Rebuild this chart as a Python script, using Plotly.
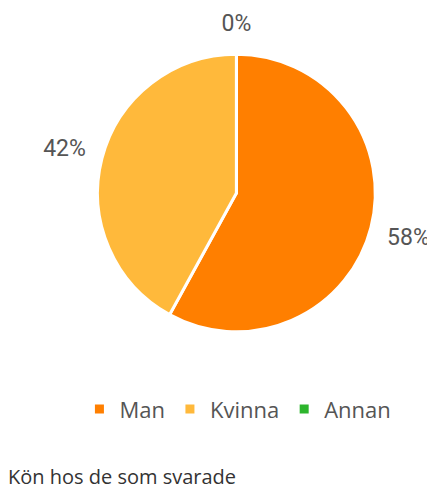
import plotly.graph_objects as go

labels = ["Man", "Kvinna", "Annan"]
values = [58, 42, 0]
colors = ["#FF7F00", "#FFB93B", "#2DB52D"]
text_labels = ["58%", "42%", "0%"]

PCT_FONT = dict(family="Roboto", size=23, color="#555555")

# main pie (slices)
pie = go.Pie(
    labels=labels,
    values=values,
    textinfo="none",
    sort=False,
    direction="clockwise",
    rotation=0,
    marker=dict(colors=colors, line=dict(color="white", width=3)),
    domain=dict(x=[0.2108, 0.8642], y=[0.3268, 0.9056]),
    showlegend=True,
    hoverinfo="label+percent",
)

# transparent ring carrying the outside labels of the two visible slices
side_ring = go.Pie(
    labels=labels,
    values=values,
    text=[t if v > 0 else "" for t, v in zip(text_labels, values)],
    textinfo="text",
    textposition="outside",
    sort=False,
    direction="clockwise",
    rotation=2.4,
    marker=dict(colors=["rgba(0,0,0,0)"] * 3, line=dict(width=0)),
    outsidetextfont=PCT_FONT,
    domain=dict(x=[0.1839, 0.8911], y=[0.3029, 0.9295]),
    showlegend=False,
    hoverinfo="skip",
)

# transparent ring whose centred top title carries the label of the zero slice
zero_label = [t for t, v in zip(text_labels, values) if v == 0][0]
top_ring = go.Pie(
    labels=labels,
    values=values,
    textinfo="none",
    sort=False,
    direction="clockwise",
    marker=dict(colors=["rgba(0,0,0,0)"] * 3, line=dict(width=0)),
    title=dict(text=zero_label, position="top center", font=PCT_FONT),
    domain=dict(x=[0.1425, 0.9325], y=[0.3, 1.0]),
    showlegend=False,
    hoverinfo="skip",
)

fig = go.Figure([pie, side_ring, top_ring])

fig.update_layout(
    width=427, height=482,
    margin=dict(l=0, r=0, t=0, b=0),
    paper_bgcolor="white",
    plot_bgcolor="white",
    legend=dict(
        orientation="h",
        x=0.541, xanchor="center",
        y=0.1674, yanchor="middle",
        font=dict(family="Open Sans", size=22, color="#555555"),
        traceorder="normal",
    ),
    title=dict(
        text="Kön hos de som svarade",
        x=0.0, xanchor="left",
        y=0.027, yanchor="middle",
        xref="container", yref="container",
        font=dict(family="Open Sans", size=20, color="#333333"),
    ),
)

fig.write_html("out.html")
